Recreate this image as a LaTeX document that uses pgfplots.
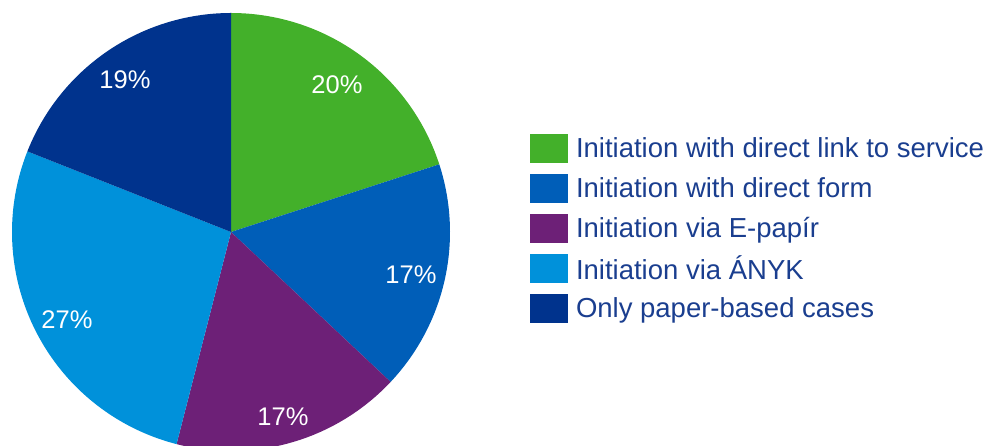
\documentclass[border=0pt]{standalone}
\usepackage{pgfplots}
\pgfplotsset{compat=1.18}
\usepackage{fontspec}
\setmainfont{Liberation Sans}
\definecolor{kgreen}{HTML}{43B02A}
\definecolor{kmid}{HTML}{005EB8}
\definecolor{kpurple}{HTML}{6D2077}
\definecolor{klight}{HTML}{0091DA}
\definecolor{kdark}{HTML}{00338D}
\definecolor{ktext}{HTML}{1A3E8F}
\newcommand{\legfont}{\fontsize{27.5}{33}\selectfont}
\newcommand{\labfont}{\fontsize{25.5}{30}\selectfont}
\begin{document}
\begin{tikzpicture}
\begin{axis}[
  scale only axis, width=987pt, height=446pt,
  xmin=0, xmax=987, ymin=0, ymax=446,
  hide axis, clip=true,
  area legend,
  legend cell align=left,
  legend image code/.code={\fill[#1] (0pt,-14.5pt) rectangle (38pt,14.5pt);},
  legend style={at={(axis cs:530,312)}, anchor=north west, draw=none, fill=none,
    inner sep=0pt, outer sep=0pt, row sep=11pt, font=\legfont, text=ktext,
    nodes={inner sep=0pt},
    /tikz/every odd column/.append style={column sep=8pt}},
]
% shares (percent), clockwise from 12 o'clock: 20, 17, 17, 27, 19
% angle = 90 - 3.6 * cumulative percent
\addplot[fill=kgreen, draw=none, domain=18:90, samples=90]
  ({231+219*cos(x)},{214+219*sin(x)}) -- (axis cs:231,214) -- cycle;
\addlegendentry{Initiation with direct link to service}
\addplot[fill=kmid, draw=none, domain=-43.2:18, samples=90]
  ({231+219*cos(x)},{214+219*sin(x)}) -- (axis cs:231,214) -- cycle;
\addlegendentry{Initiation with direct form}
\addplot[fill=kpurple, draw=none, domain=-104.4:-43.2, samples=90]
  ({231+219*cos(x)},{214+219*sin(x)}) -- (axis cs:231,214) -- cycle;
\addlegendentry{Initiation via E-papír}
\addplot[fill=klight, draw=none, domain=-201.6:-104.4, samples=120]
  ({231+219*cos(x)},{214+219*sin(x)}) -- (axis cs:231,214) -- cycle;
\addlegendentry{Initiation via ÁNYK}
\addplot[fill=kdark, draw=none, domain=-270:-201.6, samples=90]
  ({231+219*cos(x)},{214+219*sin(x)}) -- (axis cs:231,214) -- cycle;
\addlegendentry{Only paper-based cases}
\node[text=white, font=\labfont] at (axis cs:337,361) {20\%};
\node[text=white, font=\labfont] at (axis cs:411,171) {17\%};
\node[text=white, font=\labfont] at (axis cs:283,29) {17\%};
\node[text=white, font=\labfont] at (axis cs:67,126) {27\%};
\node[text=white, font=\labfont] at (axis cs:125,366) {19\%};
\end{axis}
\path (0,0) rectangle (987pt,446pt);
\end{tikzpicture}
\end{document}
